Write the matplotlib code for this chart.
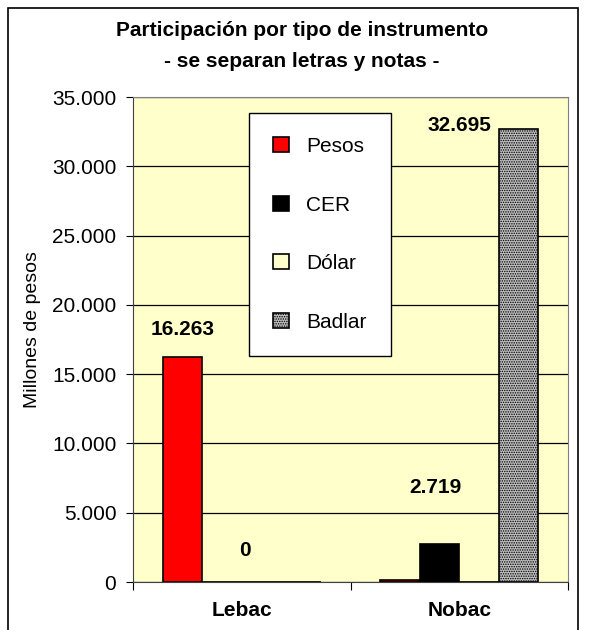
import matplotlib
matplotlib.use('Agg')
import matplotlib.pyplot as plt
import numpy as np
from matplotlib.patches import Rectangle
from matplotlib.ticker import FuncFormatter

plt.rcParams['font.family'] = ['Liberation Sans', 'DejaVu Sans']
plt.rcParams['hatch.color'] = '#505050'
plt.rcParams['hatch.linewidth'] = 0.7

categorias = ['Lebac', 'Nobac']
series = ['Pesos', 'CER', 'Dólar', 'Badlar']
pesos = [16263, 120]
cer = [0, 2719]
dolar = [0, 0]
badlar = [0, 32695]
valores = [pesos, cer, dolar, badlar]

fig = plt.figure(figsize=(5.92, 6.30), dpi=100)
ax = fig.add_axes([133/592, 1 - 582/630, 435/592, 485/630])
ax.set_facecolor('#FFFFCC')

# marco exterior del grafico
fig.patches.append(Rectangle((8/592, -0.02), 570/592, 1.02 - 8/630, transform=fig.transFigure,
                             fill=False, edgecolor='black', linewidth=1.2))

x = np.arange(len(categorias))
w = 1 / 5.5
estilos = [dict(color='#FF0000'), dict(color='#000000'),
           dict(color='#FFFFCC'), dict(color='#BEBEBE', hatch='.......')]
for i, (nombre, vals) in enumerate(zip(series, valores)):
    ax.bar(x + (i - 1.5) * w, vals, w, label=nombre, edgecolor='black',
           linewidth=1.2, zorder=3, **estilos[i])

# etiquetas de datos
kw = dict(textcoords='offset pixels', ha='center', va='center', fontsize=15, fontweight='bold')
ax.annotate('16.263', (x[0] - 1.5 * w, pesos[0]), xytext=(0, 27), **kw)
ax.annotate('0', (x[0] - 0.5 * w, cer[0]), xytext=(23, 31), **kw)
ax.annotate('2.719', (x[1] - 0.5 * w, cer[1]), xytext=(-4, 57), **kw)
ax.annotate('32.695', (x[1] + 1.5 * w, badlar[1]), xytext=(-59, 3), **kw)

ax.set_ylim(0, 35000)
ax.set_xlim(-0.5, 1.5)
ax.set_yticks(np.arange(0, 35001, 5000))
ax.yaxis.set_major_formatter(FuncFormatter(lambda v, p: f'{int(v):,}'.replace(',', '.')))
ax.grid(axis='y', color='black', linewidth=0.9, zorder=0)
ax.tick_params(axis='y', labelsize=15, length=5, direction='out', pad=7)

ax.set_xticks([-0.5, 0.5, 1.5])
ax.set_xticklabels([])
ax.set_xticks(x, minor=True)
ax.set_xticklabels(categorias, minor=True, fontsize=15, fontweight='bold')
ax.tick_params(axis='x', which='major', length=6, direction='out')
ax.tick_params(axis='x', which='minor', length=0, pad=14)

for s in ['top', 'right']:
    ax.spines[s].set_color('#808080')
for s in ['left', 'bottom']:
    ax.spines[s].set_color('#404040')

leg = ax.legend(loc='upper left', bbox_to_anchor=(0.267, 0.967), fontsize=15,
                frameon=True, fancybox=False, edgecolor='black', framealpha=1,
                handlelength=0.75, handleheight=0.75, handletextpad=0.85,
                labelspacing=1.9, borderpad=1.15, borderaxespad=0)
leg.get_frame().set_linewidth(1.0)
leg.set_zorder(5)

fig.text(0.51, 1 - 46/630, 'Participación por tipo de instrumento\n- se separan letras y notas -',
         ha='center', va='center', fontsize=15, fontweight='bold', linespacing=1.75)
fig.text(33/592, 1 - 330/630, 'Millones de pesos', rotation=90, ha='center', va='center', fontsize=14)

fig.savefig('out.png', dpi=100)
